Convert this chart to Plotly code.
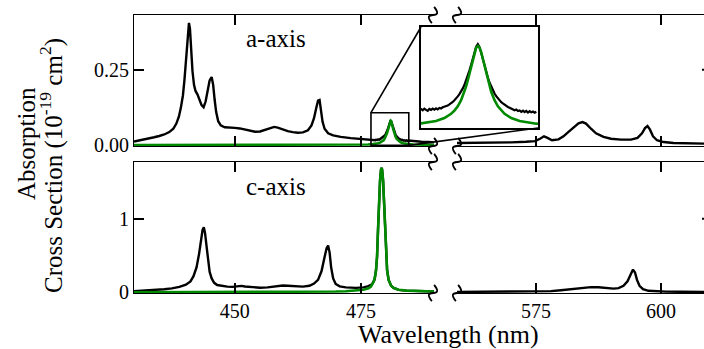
import math
import plotly.graph_objects as go

W, H = 704, 349
FONT = "Liberation Serif"
BLACK = "#000000"
GREEN = "#008a00"

# ---------------- spectra ----------------
# a-axis polarisation, blue band (coarse scan)
A_WL_BLUE = [430.0, 431.0, 432.0, 433.0, 434.0, 435.0, 436.0, 437.0, 437.8, 438.4,
             438.9, 439.3, 439.7, 440.0, 440.3, 440.6, 440.9, 441.1, 441.3, 441.6,
             441.9, 442.2, 442.6, 443.0, 443.4, 443.8, 444.2, 444.6, 445.0, 445.4,
             445.7, 446.0, 446.3, 446.7, 447.2, 448.0, 449.0, 450.0, 451.0, 452.0,
             453.0, 454.0, 455.0, 456.0, 457.0, 457.8, 458.5, 459.5, 460.5, 461.5,
             462.5, 463.5, 464.5, 465.2, 465.7, 466.1, 466.5, 466.8, 467.1, 467.4,
             467.8, 468.5, 469.5, 471.0, 473.0, 475.0, 476.5]
A_ABS_BLUE = [0.013, 0.016, 0.019, 0.023, 0.027, 0.031, 0.036, 0.044, 0.055, 0.072,
              0.095, 0.125, 0.165, 0.215, 0.280, 0.350, 0.405, 0.385, 0.320, 0.245,
              0.200, 0.180, 0.168, 0.152, 0.133, 0.126, 0.145, 0.180, 0.215, 0.226,
              0.200, 0.150, 0.110, 0.080, 0.066, 0.060, 0.060, 0.058, 0.056, 0.052,
              0.048, 0.045, 0.046, 0.052, 0.058, 0.061, 0.059, 0.053, 0.047, 0.044,
              0.042, 0.043, 0.050, 0.066, 0.090, 0.120, 0.148, 0.150, 0.115, 0.078,
              0.055, 0.040, 0.033, 0.028, 0.024, 0.021, 0.019]

# a-axis fine scan around the 481 nm line
A_WL_FINE = [477.4, 477.5, 477.6, 477.7, 477.8, 477.9, 478.0, 478.1, 478.2, 478.3,
             478.4, 478.5, 478.6, 478.7, 478.8, 478.9, 479.0, 479.1, 479.2, 479.3,
             479.4, 479.5, 479.6, 479.7, 479.8, 479.9, 480.0, 480.1, 480.2, 480.3,
             480.4, 480.5, 480.6, 480.7, 480.8, 480.9, 481.0, 481.1, 481.2, 481.3,
             481.4, 481.5, 481.6, 481.7, 481.8, 481.9, 482.0, 482.1, 482.2, 482.3,
             482.4, 482.5, 482.6, 482.7, 482.8, 482.9, 483.0, 483.1, 483.2, 483.3,
             483.4, 483.5, 483.6, 483.7, 483.8, 483.9, 484.0, 484.1, 484.2, 484.3,
             484.4]
A_ABS_FINE = [0.0172, 0.0188, 0.0176, 0.0191, 0.0179, 0.0170, 0.0189, 0.0180, 0.0193, 0.0181,
              0.0195, 0.0184, 0.0198, 0.0193, 0.0205, 0.0210, 0.0214, 0.0222, 0.0233, 0.0244,
              0.0258, 0.0275, 0.0291, 0.0313, 0.0335, 0.0360, 0.0392, 0.0428, 0.0470, 0.0520,
              0.0570, 0.0625, 0.0690, 0.0755, 0.0805, 0.0830, 0.0800, 0.0745, 0.0680, 0.0615,
              0.0555, 0.0500, 0.0450, 0.0408, 0.0372, 0.0342, 0.0315, 0.0292, 0.0272, 0.0256,
              0.0243, 0.0228, 0.0220, 0.0208, 0.0201, 0.0192, 0.0188, 0.0176, 0.0183, 0.0168,
              0.0174, 0.0160, 0.0171, 0.0158, 0.0169, 0.0153, 0.0166, 0.0155, 0.0163, 0.0151,
              0.0160]

A_WL_TAIL = [485.5, 487.0, 488.5, 489.5]
A_ABS_TAIL = [0.014, 0.012, 0.011, 0.010]

# a-axis polarisation, orange band
A_WL_RED = [559.2, 562.0, 566.0, 570.0, 573.0, 574.8, 575.8, 576.6, 577.3, 578.2,
            579.5, 580.5, 581.5, 582.5, 583.5, 584.3, 585.0, 586.0, 587.0, 588.5,
            590.0, 592.0, 594.0, 595.3, 596.2, 596.8, 597.3, 597.8, 598.4, 599.2,
            600.5, 602.5, 605.0, 608.6]
A_ABS_RED = [0.008, 0.008, 0.009, 0.010, 0.012, 0.014, 0.022, 0.030, 0.025, 0.017,
             0.020, 0.030, 0.045, 0.060, 0.073, 0.077, 0.072, 0.055, 0.040, 0.028,
             0.022, 0.019, 0.019, 0.025, 0.040, 0.057, 0.064, 0.052, 0.030, 0.017,
             0.011, 0.008, 0.007, 0.006]

# Lorentzian fit of the a-axis 481 nm line
A_FIT_WL = [430.0, 440.0, 450.0, 460.0, 466.0, 470.0, 473.0, 475.0, 476.4, 477.4,
            477.9, 478.4, 478.9, 479.3, 479.5, 479.7, 479.9, 480.1, 480.2, 480.3,
            480.4, 480.5, 480.6, 480.7, 480.8, 480.9, 481.0, 481.1, 481.2, 481.3,
            481.4, 481.5, 481.6, 481.7, 481.9, 482.1, 482.5, 482.9, 483.4, 483.9,
            484.4, 485.4, 486.9, 488.5, 489.5]
A_FIT = [0.0012, 0.0013, 0.0013, 0.0014, 0.0016, 0.0016, 0.0018, 0.0023, 0.0031, 0.0043,
         0.0053, 0.0070, 0.0099, 0.0141, 0.0172, 0.0215, 0.0275, 0.0359, 0.0412, 0.0473,
         0.0542, 0.0615, 0.0688, 0.0752, 0.0796, 0.0812, 0.0796, 0.0752, 0.0688, 0.0615,
         0.0542, 0.0473, 0.0412, 0.0359, 0.0275, 0.0215, 0.0141, 0.0099, 0.0070, 0.0053,
         0.0043, 0.0031, 0.0021, 0.0018, 0.0017]

# c-axis polarisation, blue band
C_WL_BLUE = [430.0, 432.0, 434.0, 436.0, 437.5, 439.0, 440.3, 441.2, 441.8, 442.4,
             442.9, 443.3, 443.6, 443.85, 444.1, 444.4, 444.7, 445.0, 445.4, 445.9,
             446.5, 447.5, 448.5, 449.5, 450.5, 451.3, 452.0, 453.5, 455.0, 456.5,
             458.0, 459.5, 460.5, 462.0, 463.5, 464.8, 465.7, 466.5, 467.2, 467.8,
             468.2, 468.5, 468.8, 469.1, 469.5, 470.0, 470.8, 472.0, 474.0, 475.5,
             476.5, 477.2, 477.7, 478.0, 478.2, 478.4, 478.6, 478.8, 479.0, 479.1,
             479.2, 479.4, 479.6, 479.8, 480.0, 480.2, 480.5, 481.0, 481.5, 482.5,
             484.0, 486.0, 488.0, 489.5]
C_ABS_BLUE = [0.018, 0.025, 0.033, 0.043, 0.055, 0.075, 0.105, 0.150, 0.220, 0.340,
              0.520, 0.720, 0.850, 0.885, 0.800, 0.620, 0.420, 0.280, 0.190, 0.130,
              0.100, 0.085, 0.078, 0.075, 0.084, 0.088, 0.080, 0.070, 0.064, 0.068,
              0.080, 0.093, 0.090, 0.080, 0.078, 0.090, 0.120, 0.170, 0.290, 0.480,
              0.600, 0.635, 0.540, 0.340, 0.190, 0.115, 0.082, 0.068, 0.062, 0.068,
              0.085, 0.110, 0.170, 0.300, 0.480, 0.850, 1.220, 1.520, 1.670, 1.690,
              1.670, 1.520, 1.220, 0.850, 0.480, 0.300, 0.170, 0.090, 0.060, 0.035,
              0.024, 0.017, 0.013, 0.012]

# c-axis polarisation, orange band
C_WL_RED = [559.2, 565.0, 570.0, 575.0, 578.0, 580.0, 582.0, 584.0, 586.0, 587.5,
            589.0, 590.5, 591.5, 592.5, 593.3, 593.9, 594.4, 594.8, 595.2, 595.7,
            596.4, 597.5, 599.0, 601.0, 604.0, 608.6]
C_ABS_RED = [0.006, 0.007, 0.008, 0.010, 0.018, 0.030, 0.045, 0.060, 0.072, 0.070,
             0.060, 0.052, 0.058, 0.090, 0.150, 0.240, 0.310, 0.270, 0.170, 0.090,
             0.045, 0.022, 0.014, 0.010, 0.008, 0.006]

# fit of the c-axis 479 nm line
C_FIT_WL = [430.0, 440.0, 450.0, 460.0, 465.0, 470.0, 472.0, 474.0, 475.5, 476.5,
            477.0, 477.5, 477.8, 478.0, 478.2, 478.4, 478.6, 478.8, 479.0, 479.1,
            479.2, 479.4, 479.6, 479.8, 480.0, 480.2, 480.5, 481.0, 481.5, 482.5,
            484.0, 486.0, 488.0, 489.5]
C_FIT = [0.001, 0.002, 0.003, 0.005, 0.007, 0.012, 0.016, 0.024, 0.036, 0.055,
         0.080, 0.140, 0.210, 0.300, 0.480, 0.850, 1.220, 1.520, 1.670, 1.690,
         1.670, 1.520, 1.220, 0.850, 0.480, 0.300, 0.170, 0.090, 0.060, 0.035,
         0.024, 0.017, 0.013, 0.012]

X_TICKS_BLUE = [450, 475]
X_TICKS_RED = [575, 600]
A_Y_TICKS = [0.0, 0.25]
A_Y_LABELS = ["0.00", "0.25"]
C_Y_TICKS = [0, 1]
C_Y_LABELS = ["0", "1"]

# ---------------- geometry (pixels -> paper) ----------------
def px(x):
    return x / W


def py(y):
    return 1 - y / H


DOM_BLUE = [px(134), px(434)]
DOM_RED = [px(457), 1.0]
DOM_TOP = [py(146), py(15)]
DOM_BOT = [py(293), py(162)]
DOM_INS_X = [px(421), px(538)]
DOM_INS_Y = [py(128), py(27)]

RANGE_BLUE = [430.0, 489.5]
RANGE_RED = [559.2, 608.6]
RANGE_TOP = [-0.002, 0.431]
RANGE_BOT = [-0.008, 1.77]
RANGE_INS_X = [477.5, 484.5]
RANGE_INS_Y = [0.0, 0.1]
ZOOM_BOX_X = [477.0, 484.5]
ZOOM_BOX_Y = [0.0, 0.108]


def to_paper(v, rng, dom):
    return dom[0] + (v - rng[0]) / (rng[1] - rng[0]) * (dom[1] - dom[0])


fig = go.Figure()

line_black = dict(color=BLACK, width=2.4)
line_green = dict(color=GREEN, width=2.6)

fig.add_trace(go.Scatter(x=A_WL_BLUE + A_WL_FINE + A_WL_TAIL,
                         y=A_ABS_BLUE + A_ABS_FINE + A_ABS_TAIL,
                         xaxis="x", yaxis="y", mode="lines", line=line_black))
fig.add_trace(go.Scatter(x=A_FIT_WL, y=A_FIT, xaxis="x", yaxis="y",
                         mode="lines", line=line_green))
fig.add_trace(go.Scatter(x=A_WL_RED, y=A_ABS_RED, xaxis="x2", yaxis="y",
                         mode="lines", line=line_black))
fig.add_trace(go.Scatter(x=C_WL_BLUE, y=C_ABS_BLUE, xaxis="x3", yaxis="y2",
                         mode="lines", line=line_black))
fig.add_trace(go.Scatter(x=C_FIT_WL, y=C_FIT, xaxis="x3", yaxis="y2",
                         mode="lines", line=line_green))
fig.add_trace(go.Scatter(x=C_WL_RED, y=C_ABS_RED, xaxis="x4", yaxis="y2",
                         mode="lines", line=line_black))
# inset
fig.add_trace(go.Scatter(x=A_WL_FINE, y=A_ABS_FINE, xaxis="x5", yaxis="y3",
                         mode="lines", line=dict(color=BLACK, width=2.2)))
fig.add_trace(go.Scatter(x=A_FIT_WL, y=A_FIT, xaxis="x5", yaxis="y3",
                         mode="lines", line=dict(color=GREEN, width=2.6)))

tickfont = dict(family=FONT, size=20, color=BLACK)
common = dict(showgrid=False, zeroline=False, showline=True, linecolor=BLACK,
              linewidth=1, ticks="inside", ticklen=10, tickwidth=2,
              tickcolor=BLACK, tickfont=tickfont, automargin=False)


def xax(dom, rng, anchor, vals, labels):
    return dict(common, domain=dom, range=rng, anchor=anchor, tickmode="array",
                tickvals=vals, showticklabels=labels, mirror="ticks")


def yax(dom, rng, anchor, vals, text):
    return dict(common, domain=dom, range=rng, anchor=anchor, tickmode="array",
                tickvals=vals, ticktext=text, mirror=False)


inset_axis = dict(showgrid=False, zeroline=False, showline=True, mirror=True,
                  linecolor=BLACK, linewidth=2, ticks="", showticklabels=False,
                  automargin=False)

fig.update_layout(
    width=W, height=H, autosize=False,
    margin=dict(l=0, r=0, t=0, b=0, pad=0, autoexpand=False),
    paper_bgcolor="white", plot_bgcolor="white",
    showlegend=False,
    font=dict(family=FONT, color=BLACK),
    xaxis=xax(DOM_BLUE, RANGE_BLUE, "y", X_TICKS_BLUE, False),
    xaxis2=xax(DOM_RED, RANGE_RED, "y", X_TICKS_RED, False),
    xaxis3=xax(DOM_BLUE, RANGE_BLUE, "y2", X_TICKS_BLUE, True),
    xaxis4=xax(DOM_RED, RANGE_RED, "y2", X_TICKS_RED, True),
    yaxis=yax(DOM_TOP, RANGE_TOP, "x", A_Y_TICKS, A_Y_LABELS),
    yaxis2=yax(DOM_BOT, RANGE_BOT, "x3", C_Y_TICKS, C_Y_LABELS),
    xaxis5=dict(inset_axis, domain=DOM_INS_X, range=RANGE_INS_X, anchor="y3"),
    yaxis3=dict(inset_axis, domain=DOM_INS_Y, range=RANGE_INS_Y, anchor="x5"),
)

shapes = []

# zoom box on the a-axis spectrum and its leader lines to the inset
bx0 = to_paper(ZOOM_BOX_X[0], RANGE_BLUE, DOM_BLUE)
bx1 = to_paper(ZOOM_BOX_X[1], RANGE_BLUE, DOM_BLUE)
by0 = to_paper(ZOOM_BOX_Y[0], RANGE_TOP, DOM_TOP)
by1 = to_paper(ZOOM_BOX_Y[1], RANGE_TOP, DOM_TOP)
edge = dict(color=BLACK, width=1.6)
shapes.append(dict(type="rect", xref="paper", yref="paper", x0=bx0, x1=bx1,
                   y0=by0, y1=by1, line=edge, layer="above"))
shapes.append(dict(type="line", xref="paper", yref="paper", x0=bx0, y0=by1,
                   x1=DOM_INS_X[0], y1=DOM_INS_Y[1], line=edge, layer="above"))
shapes.append(dict(type="line", xref="paper", yref="paper", x0=bx1, y0=by0,
                   x1=DOM_INS_X[1], y1=DOM_INS_Y[0], line=edge, layer="above"))


# axis-break squiggles: a tilde turned steeply upward
TILDE = [(-8, 2), (-4, -5), (-2, -4), (0, 0), (2, 4), (4, 5), (8, -2)]


def squiggle(cx, cy, angle=68):
    a = math.radians(angle)
    pts = []
    for x, y in TILDE:
        xr = x * math.cos(a) + y * math.sin(a)
        yr = -x * math.sin(a) + y * math.cos(a)
        pts.append((px(cx + xr), py(cy + yr)))
    f = lambda p: "{:.5f},{:.5f}".format(p[0], p[1])
    path = "M {} C {} {} {} C {} {} {}".format(*[f(p) for p in pts])
    return dict(type="path", xref="paper", yref="paper", path=path,
                line=dict(color=BLACK, width=1.8), layer="above")


for y_line in (15, 146, 162, 293):
    for x_break in (433, 457):
        shapes.append(squiggle(x_break, y_line))

# tick stubs of the right-hand frame edge
shapes.append(dict(type="line", xref="paper", yref="y", x0=px(W - 2), x1=1.0,
                   y0=A_Y_TICKS[1], y1=A_Y_TICKS[1], line=dict(color=BLACK, width=2)))
shapes.append(dict(type="line", xref="paper", yref="y2", x0=px(W - 2), x1=1.0,
                   y0=C_Y_TICKS[1], y1=C_Y_TICKS[1], line=dict(color=BLACK, width=2)))

fig.update_layout(shapes=shapes)

label_font = dict(family=FONT, size=25, color=BLACK)
annotations = [
    dict(text="a-axis", x=px(275.5), y=py(38), xref="paper", yref="paper",
         showarrow=False, xanchor="center", yanchor="middle", font=label_font),
    dict(text="c-axis", x=px(275.5), y=py(186), xref="paper", yref="paper",
         showarrow=False, xanchor="center", yanchor="middle", font=label_font),
    dict(text="Wavelength (nm)", x=px(448.5), y=py(334), xref="paper", yref="paper",
         showarrow=False, xanchor="center", yanchor="middle",
         font=dict(family=FONT, size=26, color=BLACK)),
    dict(text="Absorption", x=px(26), y=py(144), xref="paper", yref="paper",
         showarrow=False, xanchor="center", yanchor="middle", textangle=-90,
         font=dict(family=FONT, size=25, color=BLACK)),
    dict(text="Cross Section (10<sup>-19</sup> cm<sup>2</sup>)", x=px(52), y=py(166),
         xref="paper", yref="paper", showarrow=False, xanchor="center",
         yanchor="middle", textangle=-90,
         font=dict(family=FONT, size=25, color=BLACK)),
]
fig.update_layout(annotations=annotations)

fig.write_html("out.html")
